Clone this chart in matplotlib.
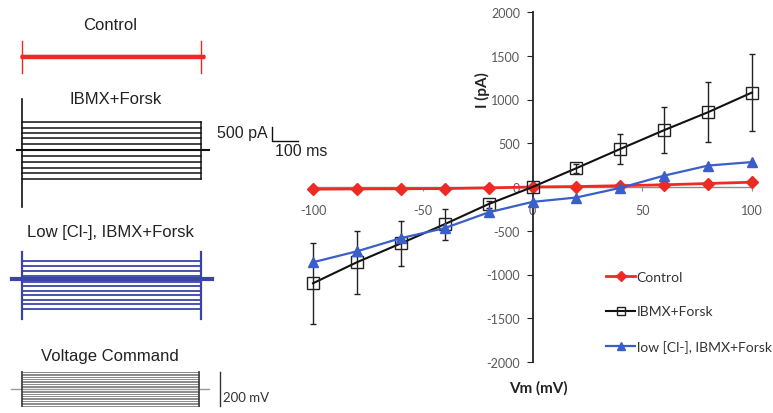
import matplotlib
matplotlib.use("Agg")
import matplotlib.pyplot as plt

plt.rcParams["axes.unicode_minus"] = False

W, H, DPI = 773, 414, 100

# ---------------- I-V data ----------------
vm = [-100, -80, -60, -40, -20, 0, 20, 40, 60, 80, 100]
control = [-25, -22, -20, -18, -10, 0, 5, 15, 25, 40, 55]
ibmx = [-1100, -860, -645, -425, -195, 0, 215, 435, 650, 855, 1080]
ibmx_err = [465, 358, 262, 178, 40, 15, 50, 172, 262, 343, 435]
lowcl = [-860, -735, -585, -470, -290, -170, -120, -10, 130, 245, 285]

xticks = [-100, -50, 0, 50, 100]
yticks = [-2000, -1500, -1000, -500, 0, 500, 1000, 1500, 2000]
legend_labels = ["Control", "IBMX+Forsk", "low [Cl-], IBMX+Forsk"]

# ---------------- example traces (pA / mV) ----------------
pulse_ms = 690
ctrl_trace = [-30, -20, -10, 0, 0, 0, 0, 10, 20, 30, 40]
ctrl_transient = (-555, 570)
ibmx_trace = [-1030, -830, -640, -430, -220, 0, 210, 420, 600, 800, 1000]
ibmx_transient = (-2040, 1820)
lowcl_trace = [-1070, -900, -740, -580, -420, -250, -100, 120, 300, 470, 640]
lowcl_transient = (-1430, 960)
cmd_levels = [-100, -90, -80, -70, -60, -50, -40, -30, -20, -10, 0,
              10, 20, 30, 40, 50, 60, 70, 80, 90, 100]
scale_pA, scale_ms, scale_mV = 500, 100, 200

RED = "#ee2a24"
BLUE = "#3b5fc8"
NAVY = "#3a44a8"

fig = plt.figure(figsize=(W / DPI, H / DPI), dpi=DPI)
fig.patch.set_facecolor("white")

# ---------------- left: trace panels ----------------
T0_PX = 22.0
PX_PER_MS = 0.26
PX_PER_PA = 0.028
PX_PER_MV = 0.17


def panel(y0_px, px_per_unit, half_px=62):
    a = fig.add_axes([0, 1 - (y0_px + half_px) / H, 330 / W, 2 * half_px / H])
    a.set_xlim(-T0_PX / PX_PER_MS, (330 - T0_PX) / PX_PER_MS)
    a.set_ylim(-half_px / px_per_unit, half_px / px_per_unit)
    a.axis("off")
    return a


def ftext(xpx, ypx, s, **kw):
    fig.text(xpx / W, 1 - ypx / H, s, **kw)


title_kw = dict(ha="center", va="center", fontsize=12, color="#222222",
                family="Liberation Sans")

# Control
a = panel(58, PX_PER_PA)
for lv in ctrl_trace:
    a.plot([0, pulse_ms + 10], [lv, lv], color=RED, lw=1.6)
for t in (0, pulse_ms):
    a.plot([t, t], list(ctrl_transient), color=RED, lw=1.0)
ftext(110, 25, "Control", **title_kw)

# IBMX + Forsk
a = panel(151, PX_PER_PA)
for lv in ibmx_trace:
    a.plot([0, pulse_ms], [lv, lv], color="#111111", lw=1.1)
a.plot([-20, pulse_ms + 28], [0, 0], color="#111111", lw=1.5)
a.plot([0, 0], list(ibmx_transient), color="#111111", lw=1.2)
a.plot([pulse_ms, pulse_ms], [min(ibmx_trace), max(ibmx_trace)], color="#111111", lw=1.1)
# scale bar
sb_t = 962
sb_y = 321
a.plot([sb_t, sb_t, sb_t + scale_ms], [sb_y + scale_pA, sb_y, sb_y], color="#111111", lw=1.0)
a.text(sb_t - 16, sb_y + 0.64 * scale_pA, f"{scale_pA} pA", ha="right", va="center",
       fontsize=11.5, color="#222222", family="Liberation Sans")
a.text(sb_t + 11, sb_y - 0.71 * scale_pA, f"{scale_ms} ms", ha="left", va="center",
       fontsize=11.5, color="#222222", family="Liberation Sans")
ftext(116, 100, "IBMX+Forsk", **title_kw)

# Low Cl
a = panel(280, PX_PER_PA)
for lv in lowcl_trace:
    a.plot([0, pulse_ms], [lv, lv], color=NAVY, lw=1.3)
a.plot([-40, pulse_ms + 42], [0, 0], color=NAVY, lw=3.0)
for t in (0, pulse_ms):
    a.plot([t, t], list(lowcl_transient), color=NAVY, lw=1.6)
ftext(110, 232, "Low [Cl-], IBMX+Forsk", **title_kw)

# Voltage command
a = panel(390, PX_PER_MV)
for lv in cmd_levels:
    a.plot([0, pulse_ms - 10], [lv, lv], color="#8a8a8a", lw=0.7)
a.plot([-42, pulse_ms + 28], [0, 0], color="#9a9a9a", lw=1.0)
for t in (0, pulse_ms - 10):
    a.plot([t, t], [min(cmd_levels), max(cmd_levels)], color="#444444", lw=1.3)
a.plot([762, 762], [-scale_mV / 2, scale_mV / 2], color="#333333", lw=1.0)
a.text(773, -47, f"{scale_mV} mV", ha="left", va="center", fontsize=9.5,
       color="#333333", family="Lato")
ftext(110, 357, "Voltage Command", **title_kw)

# ---------------- right: I-V plot ----------------
ax = fig.add_axes([313 / W, 1 - 363 / H, (752 - 313) / W, 350 / H])
ax.set_xlim(-100, 100)
ax.set_ylim(-2000, 2000)
ax.spines["left"].set_position(("data", 0))
ax.spines["bottom"].set_position(("data", 0))
ax.spines["top"].set_visible(False)
ax.spines["right"].set_visible(False)
ax.spines["left"].set_color("#222222")
ax.spines["left"].set_linewidth(1.3)
ax.spines["bottom"].set_color("#8c8c8c")
ax.spines["bottom"].set_linewidth(1.0)
ax.set_xticks(xticks)
ax.set_yticks(yticks)
ax.tick_params(axis="x", direction="out", length=3, pad=9, labelsize=9,
               labelcolor="#595959", colors="#8c8c8c")
ax.tick_params(axis="y", direction="out", length=4, pad=5, labelsize=9,
               labelcolor="#595959", colors="#222222")
for lab in ax.get_xticklabels() + ax.get_yticklabels():
    lab.set_family("Lato")
ax.set_facecolor("none")

l1, = ax.plot(vm, control, color=RED, lw=2.0, marker="D", ms=6, mfc=RED,
              mec=RED, clip_on=False, zorder=3, label=legend_labels[0])
ax.errorbar(vm, ibmx, yerr=ibmx_err, fmt="none", ecolor="#222222", elinewidth=1.0,
            capsize=2.5, capthick=1.0, zorder=2, clip_on=False)
l2, = ax.plot(vm, ibmx, color="#111111", lw=1.5, marker="s", ms=8, mfc="none",
              mec="#222222", mew=1.0, clip_on=False, zorder=4, label=legend_labels[1])
l3, = ax.plot(vm, lowcl, color=BLUE, lw=1.6, marker="^", ms=7.5, mfc=BLUE,
              mec=BLUE, clip_on=False, zorder=5, label=legend_labels[2])

ax.set_ylabel("I (pA)", fontsize=11, fontweight="bold", family="Lato", color="#222222")
ax.yaxis.set_label_coords(0.403, 0.78)
ax.set_xlabel("Vm (mV)", fontsize=11, fontweight="bold", family="Lato", color="#222222")
ax.xaxis.set_label_coords(0.5125, -0.052)

leg = fig.legend(handles=[l1, l2, l3], loc="upper left",
                 bbox_to_anchor=(606 / W, 1 - 272 / H), frameon=False,
                 prop={"family": "Lato", "size": 10}, handlelength=2.1,
                 handletextpad=0.1, labelspacing=1.62, borderpad=0,
                 borderaxespad=0, markerscale=0.8)
for t in leg.get_texts():
    t.set_color("#333333")

fig.savefig("out.png", dpi=DPI, facecolor="white")
